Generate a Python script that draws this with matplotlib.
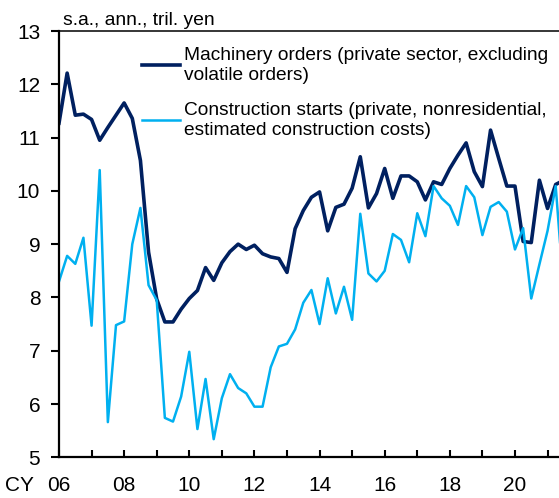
import matplotlib
matplotlib.use("Agg")
import matplotlib.pyplot as plt
import numpy as np

plt.rcParams['font.family'] = ['Liberation Sans', 'DejaVu Sans']

# quarterly, 2006 Q1 onward (s.a., ann., tril. yen)
machinery = [11.27, 12.21, 11.42, 11.44, 11.34, 10.95, 11.19, 11.42, 11.65, 11.36,
             10.57, 8.85, 7.97, 7.54, 7.54, 7.78, 7.98, 8.13, 8.56, 8.32,
             8.65, 8.86, 9.00, 8.90, 8.98, 8.82, 8.76, 8.73, 8.47, 9.29,
             9.63, 9.88, 9.98, 9.25, 9.69, 9.75, 10.05, 10.64, 9.68, 9.95,
             10.42, 9.86, 10.28, 10.28, 10.17, 9.83, 10.17, 10.12, 10.42, 10.67,
             10.90, 10.36, 10.08, 11.14, 10.61, 10.09, 10.09, 9.05, 9.03, 10.20,
             9.67, 10.12, 10.20]
construction = [8.30, 8.78, 8.63, 9.12, 7.47, 10.39, 5.66, 7.48, 7.55, 9.00,
                9.68, 8.23, 7.95, 5.74, 5.67, 6.14, 6.98, 5.53, 6.47, 5.34,
                6.11, 6.56, 6.30, 6.20, 5.95, 5.95, 6.69, 7.08, 7.13, 7.40,
                7.90, 8.14, 7.50, 8.36, 7.70, 8.20, 7.58, 9.57, 8.45, 8.30,
                8.50, 9.19, 9.08, 8.66, 9.58, 9.15, 10.09, 9.86, 9.72, 9.36,
                10.09, 9.88, 9.17, 9.70, 9.79, 9.61, 8.90, 9.30, 7.98, 8.62,
                9.25, 10.09, 8.10]
year_ticks = np.arange(2006, 2022)
year_labels = ['06', '', '08', '', '10', '', '12', '', '14', '', '16', '', '18', '', '20', '']

t_mach = 2006 + np.arange(len(machinery)) / 4
t_cons = 2006 + np.arange(len(construction)) / 4

fig = plt.figure(figsize=(5.59, 4.98), dpi=100)
ax = fig.add_axes([59 / 559, 1 - 457.3 / 498, 1 - 59 / 559, (457.3 - 31) / 498])

ax.plot(t_mach, machinery, color='#002060', lw=2.6,
        label='Machinery orders (private sector, excluding\nvolatile orders)')
ax.plot(t_cons, construction, color='#00B0F0', lw=1.8,
        label='Construction starts (private, nonresidential,\nestimated construction costs)')

ax.set_xlim(2006, 2006 + 500 / 32.57)
ax.set_ylim(5, 13)
ax.set_yticks(range(5, 14))
ax.set_xticks(year_ticks)
ax.set_xticklabels(year_labels)

for s in ['left', 'bottom']:
    ax.spines[s].set_linewidth(1.6)
ax.spines['top'].set_linewidth(1.1)
ax.spines['right'].set_visible(False)
ax.tick_params(axis='y', direction='out', length=5.5, width=1.5, pad=8, labelsize=15)
ax.tick_params(axis='x', direction='in', length=5, width=1.5, pad=13.5, labelsize=15)

ax.annotate('CY', xy=(2006, 0), xycoords=('data', 'axes fraction'),
            xytext=(-18, -13.5), textcoords='offset points',
            ha='right', va='top', fontsize=15)
ax.annotate('s.a., ann., tril. yen', xy=(0, 1), xycoords='axes fraction',
            xytext=(3, 1.5), textcoords='offset points',
            ha='left', va='bottom', fontsize=13.9)

ax.legend(loc='upper left', bbox_to_anchor=(0.166, 0.962), frameon=False,
          fontsize=13.8, borderpad=0, borderaxespad=0, handlelength=2.0,
          handletextpad=0.2, labelspacing=0.95)

fig.savefig('out.png', dpi=100)
